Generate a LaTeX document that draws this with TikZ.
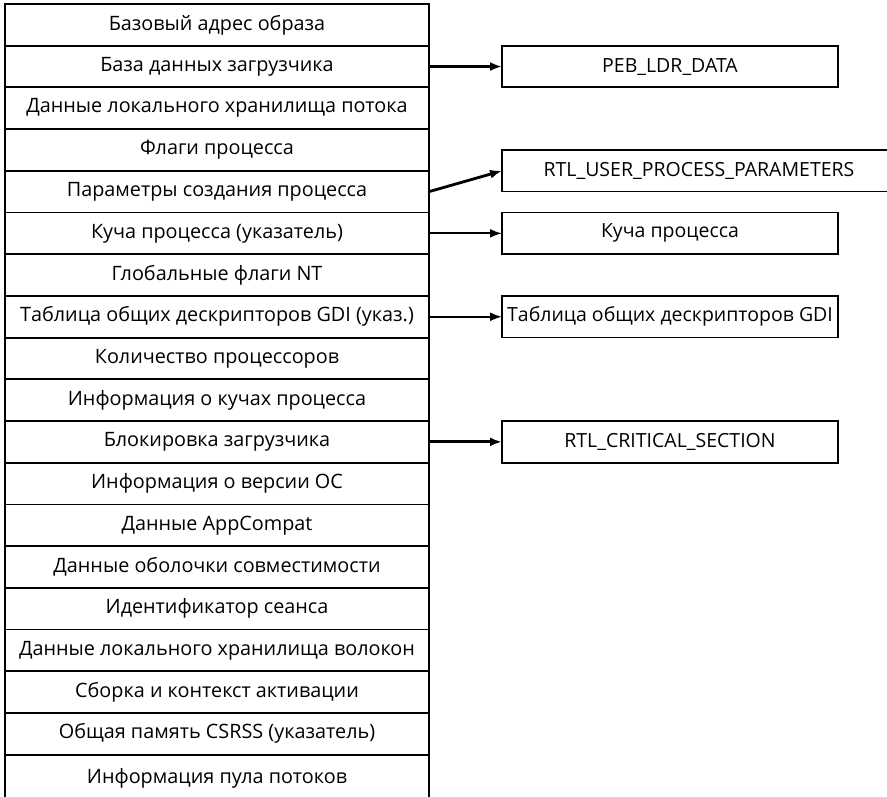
\documentclass[tikz,border=0pt]{standalone}
\usepackage{fontspec}
\setmainfont{Open Sans}
\usetikzlibrary{positioning,arrows.meta}

\tikzset{
  row/.style={draw, line width=1.8pt, outer sep=0pt, minimum width=424pt,
    minimum height=41.7pt, inner sep=0pt, font=\fontsize{19.8}{22}\selectfont},
  ptr/.style={draw, line width=1.8pt, outer sep=0pt, minimum width=336pt,
    minimum height=41.5pt, inner sep=0pt, font=\fontsize{19.5}{22}\selectfont},
  link/.style={line width=2.8pt, -{Latex[length=12pt,width=9pt]}}
}

\begin{document}
\begin{tikzpicture}[x=1pt,y=-1pt]
  \useasboundingbox (0,0) rectangle (887,797);

  % PEB fields
  \node[row] (r1) at (217,24.85) {Базовый адрес образа};
  \node[row, below=0pt of r1] (r2) {База данных загрузчика};
  \node[row, below=0pt of r2] (r3) {Данные локального хранилища потока};
  \node[row, below=0pt of r3] (r4) {Флаги процесса};
  \node[row, below=0pt of r4] (r5) {Параметры создания процесса};
  \node[row, below=0pt of r5] (r6) {Куча процесса (указатель)};
  \node[row, below=0pt of r6] (r7) {Глобальные флаги NT};
  \node[row, below=0pt of r7] (r8) {Таблица общих дескрипторов GDI (указ.)};
  \node[row, below=0pt of r8] (r9) {Количество процессоров};
  \node[row, below=0pt of r9] (r10) {Информация о кучах процесса};
  \node[row, below=0pt of r10] (r11) {Блокировка загрузчика};
  \node[row, below=0pt of r11] (r12) {Информация о версии ОС};
  \node[row, below=0pt of r12] (r13) {Данные AppCompat};
  \node[row, below=0pt of r13] (r14) {Данные оболочки совместимости};
  \node[row, below=0pt of r14] (r15) {Идентификатор сеанса};
  \node[row, below=0pt of r15] (r16) {Данные локального хранилища волокон};
  \node[row, below=0pt of r16] (r17) {Сборка и контекст активации};
  \node[row, below=0pt of r17] (r18) {Общая память CSRSS (указатель)};
  \node[row, below=0pt of r18, minimum height=70pt, text depth=28pt] (r19) {Информация пула потоков};

  % pointed-to structures
  \node[ptr, right=73pt of r2] (peb) {PEB\_LDR\_DATA};
  \node[ptr, right=73pt of r4.south east, minimum width=394pt] (upp) {RTL\_USER\_PROCESS\_PARAMETERS};
  \node[ptr, right=73pt of r6] (heap) {Куча процесса};
  \node[ptr, right=73pt of r8] (gdi) {Таблица общих дескрипторов GDI};
  \node[ptr, right=73pt of r11] (crit) {RTL\_CRITICAL\_SECTION};

  % pointers
  \draw[link] (r2) -- (peb);
  \draw[link] (r5.east) -- (upp.west);
  \draw[link, line width=2pt] (r6) -- (heap);
  \draw[link, line width=2pt] (r8) -- (gdi);
  \draw[link] (r11) -- (crit);
\end{tikzpicture}
\end{document}
